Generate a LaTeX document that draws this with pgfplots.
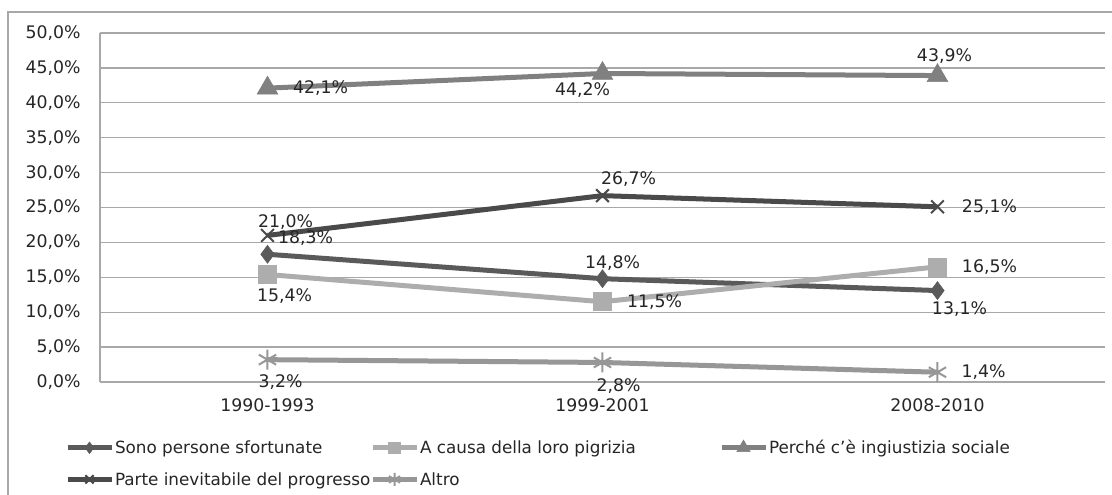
\documentclass[border=0pt]{standalone}
\usepackage{fontspec}
\setmainfont{DejaVu Sans}
\usepackage{pgfplots}
\pgfplotsset{compat=1.18}
\usepackage{pgfplotstable}
\usetikzlibrary{plotmarks}

\definecolor{cSono}{HTML}{5A5A5A}
\definecolor{cCausa}{HTML}{ADADAD}
\definecolor{cPerche}{HTML}{808080}
\definecolor{cParte}{HTML}{4A4A4A}
\definecolor{cAltro}{HTML}{979797}
\definecolor{cGrid}{HTML}{A8A8A8}
\definecolor{cText}{HTML}{262626}

\pgfplotstableread{
x y dx dy
0 18.3 38 16
1 14.8 10 16
2 13.1 22 -19
}\tSono
\pgfplotstableread{
x y dx dy
0 15.4 17 -22
1 11.5 52 0
2 16.5 52 0
}\tCausa
\pgfplotstableread{
x y dx dy
0 42.1 53 0
1 44.2 -20 -17
2 43.9 7 19
}\tPerche
\pgfplotstableread{
x y dx dy
0 21.0 18 13
1 26.7 26 17
2 25.1 52 0
}\tParte
\pgfplotstableread{
x y dx dy
0 3.2 13 -22
1 2.8 16 -24
2 1.4 46 0
}\tAltro

\newcommand{\lblfont}{\fontsize{17.3bp}{20bp}\selectfont}
\newcommand{\legfont}{\fontsize{16.8bp}{19bp}\selectfont}

\begin{document}
\begin{tikzpicture}
\useasboundingbox (0,0) rectangle (1112bp,495bp);
\clip (0,0) rectangle (1112bp,495bp);
\fill[white] (0,0) rectangle (1112bp,495bp);
\draw[cGrid, line width=1.4bp] (8bp,-10bp) -- (8bp,483bp) -- (1130bp,483bp);
\begin{axis}[
  at={(100bp,113bp)}, anchor=south west,
  scale only axis, width=1005bp, height=349bp,
  xmin=-0.5, xmax=2.5, ymin=0, ymax=50,
  xtick={0,1,2}, xticklabels={1990-1993,1999-2001,2008-2010},
  ytick={0,5,...,50},
  /pgf/number format/assume math mode=true,
  yticklabel={\pgfmathprintnumber[fixed,fixed zerofill,precision=1,use comma,assume math mode=true]{\tick}\%},
  ymajorgrids, major grid style={cGrid, line width=1.3bp},
  axis x line*=bottom, axis y line*=left,
  axis line style={cGrid, line width=1.3bp},
  tick style={draw=none},
  ticklabel style={font=\lblfont, text=cText},
  yticklabel style={xshift=-16bp},
  xticklabel style={yshift=-13bp},
  clip=false,
  legend columns=3,
  legend cell align=left,
  legend style={at={(-0.038,-0.158)}, anchor=north west, draw=none, fill=none,
    font=\legfont, text=cText, column sep=0bp, row sep=15bp,
    nodes={inner sep=1bp}},
  legend image code/.code={\draw[mark repeat=2,mark phase=2,every mark/.append style={scale=0.65},#1] plot coordinates {(0bp,0bp)(22bp,0bp)(44bp,0bp)};},
  visualization depends on={\thisrow{dx} \as \ldx},
  visualization depends on={\thisrow{dy} \as \ldy},
  nodes near coords={\pgfmathprintnumber[fixed,fixed zerofill,precision=1,use comma,assume math mode=true]{\pgfplotspointmeta}\%},
  every node near coord/.append style={anchor=center, xshift=\ldx bp, yshift=\ldy bp, font=\lblfont, text=cText, inner sep=0pt},
  point meta=y,
]
\addplot[cSono, line width=5bp, mark=diamond*, mark size=9bp, mark options={fill=cSono, draw=cSono, line width=0.5bp}] table[x=x,y=y] {\tSono};
\addlegendentry{\makebox[254bp][l]{Sono persone sfortunate}}
\addplot[cCausa, line width=5bp, mark=square*, mark size=9bp, mark options={fill=cCausa, draw=cCausa, line width=0.5bp}] table[x=x,y=y] {\tCausa};
\addlegendentry{\makebox[298bp][l]{A causa della loro pigrizia}}
\addplot[cPerche, line width=5bp, mark=triangle*, mark size=12bp, mark options={fill=cPerche, draw=cPerche, line width=0.5bp}] table[x=x,y=y] {\tPerche};
\addlegendentry{Perché c'è ingiustizia sociale}
\addplot[cParte, line width=5bp, mark=x, mark size=9bp, mark options={draw=cParte, line width=2bp}] table[x=x,y=y] {\tParte};
\addlegendentry{\makebox[254bp][l]{Parte inevitabile del progresso}}
\addplot[cAltro, line width=5bp, mark=asterisk, mark size=10bp, mark options={draw=cAltro, line width=2bp}] table[x=x,y=y] {\tAltro};
\addlegendentry{Altro}
\end{axis}
\end{tikzpicture}
\end{document}
